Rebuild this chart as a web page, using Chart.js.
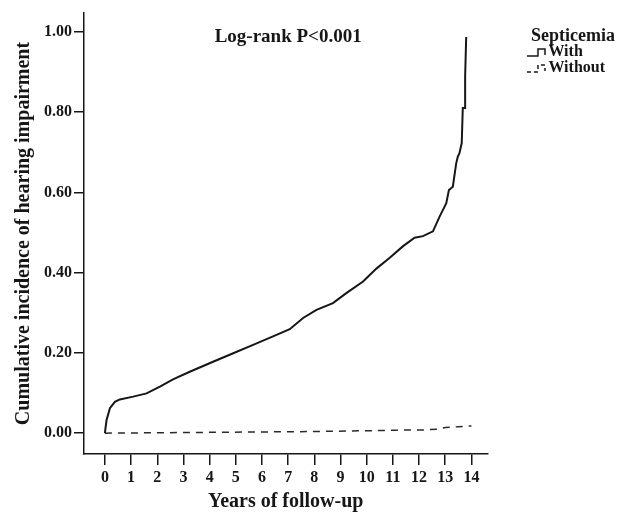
<!DOCTYPE html>
<html>
<head>
<meta charset="utf-8">
<script src="https://cdn.jsdelivr.net/npm/chart.js@4.4.1/dist/chart.umd.min.js"></script>
<style>
  body { margin: 0; background: #fff; }
  #wrap { width: 620px; height: 514px; }
</style>
</head>
<body>
<div id="wrap"><canvas id="myChart"></canvas></div>
<script>
const seriesNames = ['With', 'Without']
const legendTitle = 'Septicemia'
const annotationText = 'Log-rank P<0.001'

// (years, cumulative incidence)
const withYears = [0, 0.02, 0.06, 0.19, 0.38, 0.57, 1.08, 1.59, 2.1, 2.6, 3.24, 4.13, 4.9, 5.66, 6.42, 7.06, 7.57, 8.08, 8.71, 9.22, 9.86, 10.37, 10.88, 11.39, 11.83, 12.15, 12.53, 12.78, 13.04, 13.14, 13.29, 13.42, 13.48, 13.54, 13.63, 13.67, 13.76, 13.76, 13.8]
const withIncidence = [0, 0.012, 0.032, 0.062, 0.078, 0.084, 0.091, 0.099, 0.116, 0.134, 0.153, 0.178, 0.199, 0.22, 0.241, 0.259, 0.287, 0.307, 0.324, 0.349, 0.378, 0.41, 0.437, 0.466, 0.487, 0.491, 0.503, 0.539, 0.573, 0.606, 0.614, 0.673, 0.689, 0.697, 0.723, 0.81, 0.81, 0.889, 0.987]

const withoutYears = [0, 2, 4, 6, 8, 10, 11.25, 12.2, 12.7, 13.0, 13.5, 14.0]
const withoutIncidence = [0, 0.001, 0.002, 0.003, 0.004, 0.006, 0.0075, 0.008, 0.01, 0.014, 0.016, 0.018]

const xTicks = [0, 1, 2, 3, 4, 5, 6, 7, 8, 9, 10, 11, 12, 13, 14]
const yTicks = [0, 0.2, 0.4, 0.6, 0.8, 1.0]

const serif = "'Liberation Serif', 'Times New Roman', serif"
const ink = '#161616'

function legendSymbol(dashed) {
    const c = document.createElement('canvas')
    c.width = 64
    c.height = 14
    const g = c.getContext('2d')
    g.strokeStyle = ink
    g.lineWidth = 1.5
    if (dashed) g.setLineDash([4, 3])
    g.beginPath()
    g.moveTo(45, 11)
    g.lineTo(56, 11)
    g.lineTo(56, 4)
    g.lineTo(63, 4)
    g.lineTo(63, 10)
    g.stroke()
    return c
}

const toPoints = (xs, ys) => xs.map((x, i) => ({ x: x, y: ys[i] }))

const logRankLabel = {
    id: 'logRankLabel',
    afterDraw(chart) {
        const { ctx, chartArea } = chart
        ctx.save()
        ctx.font = 'bold 19px ' + serif
        ctx.fillStyle = ink
        ctx.textAlign = 'center'
        ctx.textBaseline = 'middle'
        ctx.fillText(annotationText, chart.scales.x.getPixelForValue(7), chartArea.top + 24)
        ctx.restore()
    }
}

const ctx = document.getElementById('myChart')

new Chart(ctx, {
    type: 'line',
    data: {
        datasets: [
            {
                label: seriesNames[0],
                data: toPoints(withYears, withIncidence),
                borderColor: ink,
                borderWidth: 2,
                pointRadius: 0,
                pointStyle: legendSymbol(false),
                tension: 0,
            },
            {
                label: seriesNames[1],
                data: toPoints(withoutYears, withoutIncidence),
                borderColor: '#2a2a2a',
                borderWidth: 1.5,
                borderDash: [7, 6],
                pointRadius: 0,
                pointStyle: legendSymbol(true),
                tension: 0,
            }
        ]
    },
    options: {
        responsive: true,
        maintainAspectRatio: false,
        animation: false,
        events: [],
        layout: { padding: { top: 13, right: 5, left: 0, bottom: 0 } },
        plugins: {
            tooltip: { enabled: false },
            legend: {
                position: 'right',
                align: 'start',
                title: {
                    display: true,
                    text: legendTitle,
                    position: 'end',
                    color: ink,
                    font: { family: serif, size: 18, weight: 'bold', lineHeight: 1 },
                    padding: { top: 14, bottom: -1 }
                },
                labels: {
                    usePointStyle: true,
                    pointStyleWidth: 53,
                    padding: 0,
                    color: ink,
                    font: { family: serif, size: 16, weight: 'bold' }
                }
            }
        },
        scales: {
            x: {
                type: 'linear',
                min: -0.8,
                max: 14.61,
                afterBuildTicks: scale => { scale.ticks = xTicks.map(v => ({ value: v })) },
                afterFit: scale => { scale.height = 60 },
                ticks: {
                    color: ink,
                    padding: 3,
                    font: { family: serif, size: 16, weight: 'bold' },
                    callback: v => String(v)
                },
                grid: { drawOnChartArea: false, drawTicks: true, tickLength: 11, color: ink, lineWidth: 1.5 },
                border: { display: true, color: ink, width: 1.5 },
                title: {
                    display: true,
                    text: 'Years of follow-up',
                    color: ink,
                    font: { family: serif, size: 20, weight: 'bold' },
                    padding: { top: 0, bottom: 0 }
                }
            },
            y: {
                type: 'linear',
                min: -0.052,
                max: 1.047,
                afterBuildTicks: scale => { scale.ticks = yTicks.map(v => ({ value: v })) },
                afterFit: scale => { scale.width = 84 },
                ticks: {
                    color: ink,
                    padding: 2,
                    font: { family: serif, size: 16, weight: 'bold' },
                    callback: v => Number(v).toFixed(2)
                },
                grid: { drawOnChartArea: false, drawTicks: true, tickLength: 10, color: ink, lineWidth: 1.5 },
                border: { display: true, color: ink, width: 1.5 },
                title: {
                    display: true,
                    text: 'Cumulative incidence of hearing impairment',
                    color: ink,
                    font: { family: serif, size: 20, weight: 'bold' },
                    padding: { top: 12, bottom: 0 }
                }
            }
        }
    },
    plugins: [logRankLabel]
})
</script>
</body>
</html>
